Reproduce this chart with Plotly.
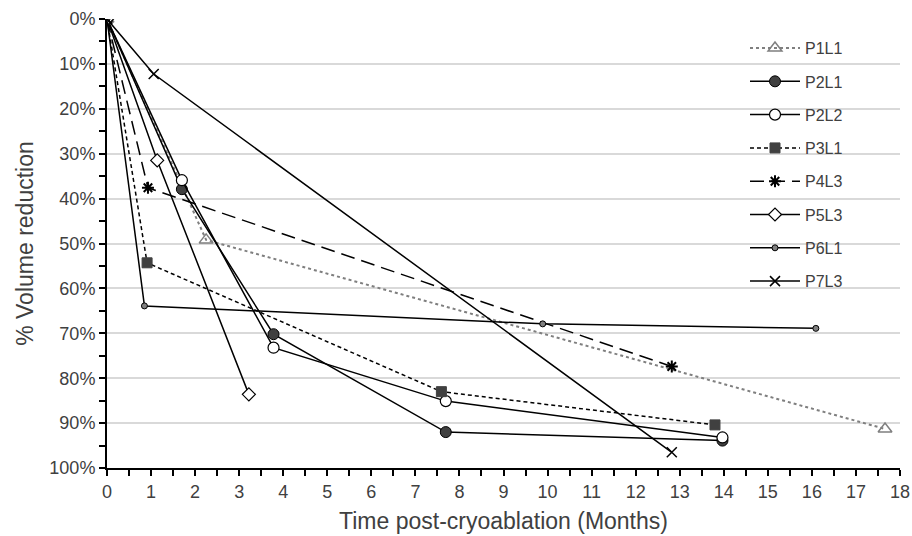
import plotly.graph_objects as go

# Data (months, % volume reduction)
names = ["P1L1", "P2L1", "P2L2", "P3L1", "P4L3", "P5L3", "P6L1", "P7L3"]
x_p1l1 = [0, 2.25, 17.66]
y_p1l1 = [0, 49.2, 91.3]
x_p2l1 = [0, 1.70, 3.78, 7.69, 13.97]
y_p2l1 = [0, 37.9, 70.2, 92.0, 93.9]
x_p2l2 = [0, 1.70, 3.78, 7.69, 13.97]
y_p2l2 = [0, 35.9, 73.2, 85.1, 93.2]
x_p3l1 = [0, 0.91, 7.59, 13.80]
y_p3l1 = [0, 54.3, 83.0, 90.4]
x_p4l3 = [0, 0.93, 12.82]
y_p4l3 = [0, 37.6, 77.4]
x_p5l3 = [0, 1.14, 3.22]
y_p5l3 = [0, 31.5, 83.6]
x_p6l1 = [0, 0.85, 9.89, 16.09]
y_p6l1 = [0, 63.9, 67.9, 68.9]
x_p7l3 = [0, 1.06, 12.82]
y_p7l3 = [0, 12.25, 96.5]

xs = [x_p1l1, x_p2l1, x_p2l2, x_p3l1, x_p4l3, x_p5l3, x_p6l1, x_p7l3]
ys = [y_p1l1, y_p2l1, y_p2l2, y_p3l1, y_p4l3, y_p5l3, y_p6l1, y_p7l3]

styles = [
    dict(line=dict(color="#7f7f7f", width=2, dash="dot"),
         marker=dict(symbol="triangle-up-open", size=12, color="#7f7f7f", line=dict(width=1.5, color="#7f7f7f"))),
    dict(line=dict(color="#000000", width=1.5, dash="solid"),
         marker=dict(symbol="circle", size=11, color="#404040", line=dict(width=1, color="#000000"))),
    dict(line=dict(color="#000000", width=1.5, dash="solid"),
         marker=dict(symbol="circle", size=11, color="#ffffff", line=dict(width=1.2, color="#000000"))),
    dict(line=dict(color="#000000", width=1.5, dash="4px,3px"),
         marker=dict(symbol="square", size=10, color="#404040", line=dict(width=1, color="#404040"))),
    dict(line=dict(color="#000000", width=1.5, dash="14px,7px"),
         marker=dict(symbol="asterisk-open", size=10, color="#000000", line=dict(width=2, color="#000000"))),
    dict(line=dict(color="#000000", width=1.5, dash="solid"),
         marker=dict(symbol="diamond", size=10, color="#ffffff", line=dict(width=1.2, color="#000000"))),
    dict(line=dict(color="#000000", width=1.5, dash="solid"),
         marker=dict(symbol="circle", size=6, color="#808080", line=dict(width=1, color="#000000"))),
    dict(line=dict(color="#000000", width=1.5, dash="solid"),
         marker=dict(symbol="x-thin-open", size=10, color="#000000", line=dict(width=1.5, color="#000000"))),
]

fig = go.Figure()
for n, x, y, st in zip(names, xs, ys, styles):
    fig.add_trace(go.Scatter(x=x, y=y, name=n, mode="lines+markers",
                             line=st["line"], marker=st["marker"], legendgroup=n))

# plot area: 107..900 px wide, 19..468 px tall
pw, ph = 793.0, 449.0
fig.add_shape(type="rect", xref="paper", yref="paper", layer="between",
              x0=(728 - 107) / pw, x1=(868 - 107) / pw,
              y0=(468 - 300) / ph, y1=(468 - 27) / ph,
              fillcolor="white", line=dict(width=0))

fig.update_layout(
    width=912, height=536,
    margin=dict(l=107, r=12, t=19, b=68, autoexpand=False),
    paper_bgcolor="white", plot_bgcolor="white",
    font=dict(family="Liberation Sans, Arial, sans-serif", size=18, color="#404040"),
    showlegend=True,
    legend=dict(x=(745 - 107) / pw, y=0.973, xanchor="left", yanchor="top",
                bgcolor="rgba(0,0,0,0)", font=dict(size=16, color="#404040"),
                tracegroupgap=9.5, traceorder="grouped", itemwidth=50),
    xaxis=dict(range=[0, 18], dtick=1, tick0=0, showgrid=False, zeroline=False,
               automargin=False,
               showline=True, linecolor="#000000", linewidth=2,
               ticks="outside", ticklen=6, tickcolor="#000000", tickwidth=1.5,
               minor=dict(dtick=0.5, ticks="outside", ticklen=6, tickcolor="#000000", tickwidth=1.5),
               title=dict(text="Time post-cryoablation (Months)", font=dict(size=23, color="#404040"), standoff=12),
               tickfont=dict(size=18, color="#404040")),
    yaxis=dict(range=[100, 0], dtick=10, tick0=0, ticksuffix="%",
               automargin=False,
               showgrid=True, gridcolor="#d9d9d9", gridwidth=1.5, zeroline=False,
               showline=True, linecolor="#000000", linewidth=2,
               ticks="outside", ticklen=6, tickcolor="#000000", tickwidth=1.5,
               minor=dict(dtick=5, ticks="outside", ticklen=6, tickcolor="#000000", tickwidth=1.5, showgrid=False),
               title=dict(text="% Volume reduction", font=dict(size=23, color="#404040"), standoff=9),
               tickfont=dict(size=18, color="#404040")),
)

fig.write_html("out.html")
